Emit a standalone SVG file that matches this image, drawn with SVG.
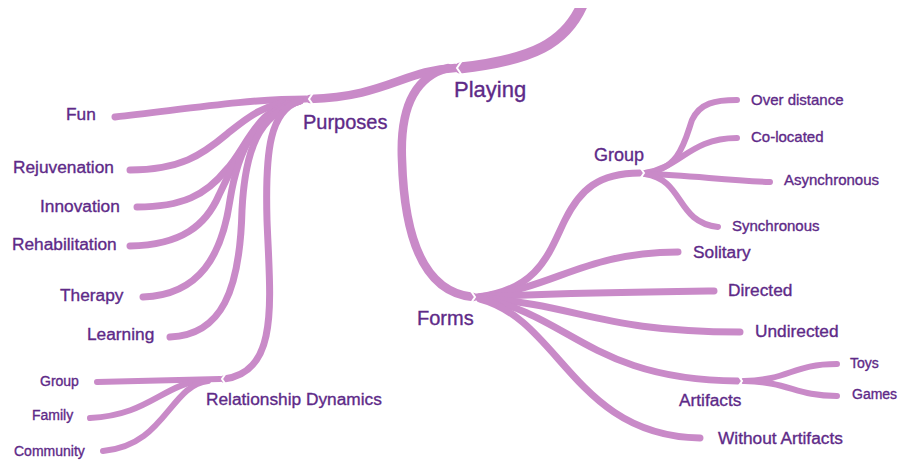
<svg xmlns="http://www.w3.org/2000/svg" width="901" height="462" viewBox="0 0 901 462">
<defs>
<clipPath id="topcut"><rect x="0" y="8" width="901" height="454"/></clipPath>
</defs>
<style>
.b{fill:none;stroke:#c98ac8;stroke-linecap:round;stroke-linejoin:round}
.w1{stroke-width:11}.w2{stroke-width:8.5}.w3{stroke-width:7}.w4{stroke-width:6}
.n{fill:none;stroke:#ffffff;stroke-width:2;stroke-linecap:round}
text{font-family:"Liberation Sans",Arial,Helvetica,sans-serif;fill:#5e2a88;stroke:#5e2a88;stroke-width:0.35}
.t1{font-size:22px}.t2{font-size:20px}.t3{font-size:17.3px}.t4{font-size:15px}.t5{font-size:14px}
</style>
<rect width="901" height="462" fill="#ffffff"/>
<g id="connectors">
<path class="b w1" clip-path="url(#topcut)" d="M585,-2 C568,45 530,60 460,68"/>
<path class="b w2" d="M455,68 C405,70 385,97 310,99"/>
<path class="b w2" d="M448,68 C410,78 400,115 402,160 C404,230 420,292 473,297"/>
<path class="b w3" d="M306,99 C245,99 180,110 115,117"/>
<path class="b w3" d="M300,100 C262,104 247,118 227,134 C202,155 180,170 130,170"/>
<path class="b w3" d="M300,100 C256,106 246,150 226,170 C206,195 182,207 137,207"/>
<path class="b w3" d="M300,100 C256,110 236,160 219,195 C206,225 182,245 130,246"/>
<path class="b w3" d="M300,101 C256,112 238,150 230,200 C222,255 200,295 143,297"/>
<path class="b w3" d="M300,101 C258,115 245,150 242,210 C240,290 222,335 170,337"/>
<path class="b w3" d="M300,101 C270,110 265,150 267,220 C270,300 280,372 224,379"/>
<path class="b w4" d="M220,379 C180,380 140,381 97,382"/>
<path class="b w4" d="M205,380 C162,384 150,415 90,418"/>
<path class="b w4" d="M208,381 C170,385 165,446 103,451"/>
<path class="b w3" d="M477,297 C540,290 550,250 565,220 C580,190 598,173 640,173"/>
<path class="b w3" d="M480,297 C560,286 582,253 678,252"/>
<path class="b w3" d="M480,297 C560,293 640,292 714,291"/>
<path class="b w3" d="M480,298 C580,305 600,332 740,332"/>
<path class="b w3" d="M480,298 C570,315 592,380 738,381"/>
<path class="b w3" d="M480,299 C560,320 575,436 700,438"/>
<path class="b w4" d="M645,173 C680,170 685,140 692,120 C700,103 715,100 737,100"/>
<path class="b w4" d="M645,173 C680,168 690,138 737,138"/>
<path class="b w4" d="M645,174 C690,175 720,180 770,182"/>
<path class="b w4" d="M645,174 C685,180 675,222 718,227"/>
<path class="b w4" d="M744,381 C790,380 792,364 837,364"/>
<path class="b w4" d="M744,381 C790,382 795,396 837,396"/>
<path class="n" d="M461,62 L457,68 L461,74"/>
<path class="n" d="M313,93 L309,99 L313,105"/>
<path class="n" d="M226,373 L222,379 L226,385"/>
<path class="n" d="M471,291 L475,297 L471,303"/>
<path class="n" d="M640,167 L644,173 L640,179"/>
<path class="n" d="M738,375 L742,381 L738,387"/>
</g>
<g id="playing"><text class="t1" x="454" y="97">Playing</text></g>
<g id="purposes"><text class="t2" x="303" y="129">Purposes</text></g>
<g id="forms"><text class="t2" x="417" y="325">Forms</text></g>
<g id="fun"><text class="t3" x="66" y="120">Fun</text></g>
<g id="rejuvenation"><text class="t3" x="13" y="173">Rejuvenation</text></g>
<g id="innovation"><text class="t3" x="40" y="212">Innovation</text></g>
<g id="rehabilitation"><text class="t3" x="12" y="250">Rehabilitation</text></g>
<g id="therapy"><text class="t3" x="60" y="301">Therapy</text></g>
<g id="learning"><text class="t3" x="87" y="340">Learning</text></g>
<g id="relationship"><text class="t3" x="206" y="405">Relationship Dynamics</text></g>
<g id="rd-group"><text class="t5" x="40" y="386">Group</text></g>
<g id="family"><text class="t5" x="32" y="420">Family</text></g>
<g id="community"><text class="t5" x="14" y="456">Community</text></g>
<g id="forms-group"><text class="t3" x="594" y="161" style="font-size:18px">Group</text></g>
<g id="over-distance"><text class="t4" x="751" y="105">Over distance</text></g>
<g id="co-located"><text class="t4" x="751" y="142">Co-located</text></g>
<g id="asynchronous"><text class="t4" x="784" y="185">Asynchronous</text></g>
<g id="synchronous"><text class="t4" x="732" y="231">Synchronous</text></g>
<g id="solitary"><text class="t3" x="693" y="258">Solitary</text></g>
<g id="directed"><text class="t3" x="728" y="296">Directed</text></g>
<g id="undirected"><text class="t3" x="755" y="337">Undirected</text></g>
<g id="artifacts"><text class="t3" x="679" y="406">Artifacts</text></g>
<g id="toys"><text class="t5" x="850" y="368">Toys</text></g>
<g id="games"><text class="t5" x="852" y="399">Games</text></g>
<g id="without-artifacts"><text class="t3" x="718" y="444">Without Artifacts</text></g>
</svg>
